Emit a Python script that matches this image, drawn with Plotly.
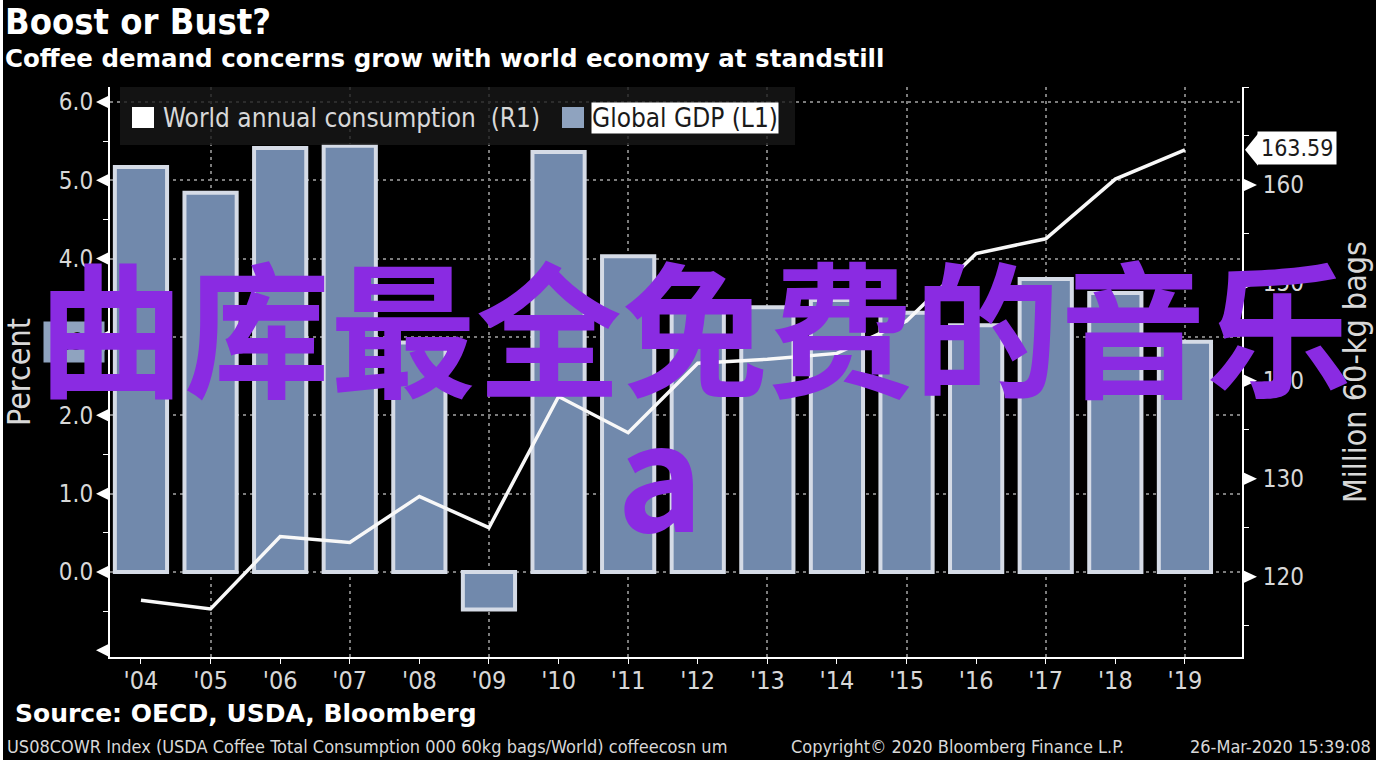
import plotly.graph_objects as go

years = list(range(2004, 2020))
year_labels = ["'04", "'05", "'06", "'07", "'08", "'09", "'10", "'11", "'12", "'13", "'14", "'15", "'16", "'17", "'18", "'19"]
gdp = [5.17, 4.84, 5.41, 5.44, 2.93, -0.48, 5.36, 4.03, 3.45, 3.38, 3.47, 3.31, 3.15, 3.74, 3.56, 2.94]
consumption = [117.6, 116.7, 124.1, 123.5, 128.2, 125.0, 138.4, 134.7, 141.8, 142.2, 142.8, 146.1, 153.0, 154.5, 160.6, 163.59]

left_ticks = [0, 1, 2, 3, 4, 5, 6]
left_labels = ["0.0", "1.0", "2.0", "3.0", "4.0", "5.0", "6.0"]
right_ticks = [120, 130, 140, 150, 160]
odd_years = [2005, 2007, 2009, 2011, 2013, 2015, 2017, 2019]

W, H = 1382, 770
L, R, T, B = 110, 1242, 87, 657
FONT = "DejaVu Sans Condensed, DejaVu Sans"
GREY = "#d8d8d8"
GRID = "#7c7c7c"
GDP_SWATCH = "#8fa3bf"


def xp(x):
    return (x - L) / (R - L)


def yp(y):
    return (B - y) / (B - T)


fig = go.Figure()

fig.add_trace(go.Bar(x=years, y=gdp, name="Global GDP (L1)", width=0.75, showlegend=False,
                     marker=dict(color="#7189ac", line=dict(color="#d5dbe6", width=4))))
fig.add_trace(go.Scatter(x=years, y=consumption, name="World annual consumption (R1)", yaxis="y2",
                         mode="lines", showlegend=False, line=dict(color="#f8f8f8", width=3.5)))

fig.update_layout(
    width=W, height=H, paper_bgcolor="white", plot_bgcolor="black", showlegend=False,
    margin=dict(l=L, r=W - R, t=T, b=H - B, autoexpand=False),
    font=dict(family=FONT, color=GREY, size=24),
    xaxis=dict(range=[2003.555, 2019.82], tickvals=years, ticktext=year_labels, showgrid=False,
               ticks="outside", ticklen=5, tickcolor="white", zeroline=False,
               showline=True, linecolor="white", linewidth=2, tickfont=dict(size=25),
               ticklabelstandoff=-5,
               minor=dict(tickvals=odd_years, showgrid=True, gridcolor=GRID, griddash="3px,4px",
                          gridwidth=1.5, ticks="")),
    yaxis=dict(range=[-1.085, 6.19], tickvals=left_ticks, ticktext=left_labels,
               showgrid=True, gridcolor=GRID, griddash="3px,4px", gridwidth=1.5, zeroline=False,
               showline=True, linecolor="white", linewidth=2, ticks="", ticklabelstandoff=10,
               minor=dict(dtick=0.5, ticks="outside", ticklen=5, tickcolor="white", showgrid=False),
               title=dict(text="Percent", standoff=20, font=dict(size=32))),
    yaxis2=dict(range=[111.8, 170], overlaying="y", side="right", tickvals=right_ticks,
                showgrid=False, zeroline=False, showline=True, linecolor="white", linewidth=2,
                ticks="", ticklabelstandoff=14,
                minor=dict(dtick=5, ticks="outside", ticklen=5, tickcolor="white"),
                title=dict(text="Million 60-kg bags", standoff=41, font=dict(size=32))),
)


def box(x0, x1, y0, y1, color, layer="above"):
    fig.add_shape(type="rect", xref="paper", yref="paper", layer=layer, line_width=0, fillcolor=color,
                  x0=xp(x0), x1=xp(x1), y0=yp(y1), y1=yp(y0))


def triangle(x_anchor, yref, value, path, color="white"):
    # pixel sized marker anchored on an axis value
    fig.add_shape(type="path", xref="paper", yref=yref, xsizemode="pixel", ysizemode="pixel",
                  xanchor=x_anchor, yanchor=value, path=path, fillcolor=color, line_width=0, layer="above")


# white page strip and black picture panel
box(3, 1376, 0, 760, "black", layer="below")
# legend box and swatches
box(120, 795, 87, 145, "rgba(24,24,24,0.8)")
box(132, 154, 107, 128, "white")
box(562, 584, 107, 128, GDP_SWATCH)

for v in [-1] + left_ticks:
    triangle(0, "y", v, "M -14 0 L 0 7 L 0 -7 Z")
for v in right_ticks:
    triangle(1, "y2", v, "M 15 0 L 0 7 L 0 -7 Z")
# pointers of the last value tags
triangle(xp(1258), "y2", consumption[-1], "M -13 0 L 0 16 L 0 -16 Z")
triangle(xp(98), "y", gdp[-1], "M 12 0 L 0 20 L 0 -20 Z", GDP_SWATCH)


def label(text, x, y, size, color=GREY, anchor="left", font=FONT, bold=False, **kw):
    if bold:
        text = "<b>" + text + "</b>"
    fig.add_annotation(text=text, xref="paper", yref="paper", x=xp(x), y=yp(y),
                       xanchor=anchor, yanchor="middle", showarrow=False,
                       font=dict(size=size, color=color, family=font), **kw)


label("Boost or Bust?", 3, 21, 36, "white", bold=True)
label("Coffee demand concerns grow with world economy at standstill", 3, 58, 24.5, "white",
      font="DejaVu Sans", bold=True)
label("World annual consumption  (R1)", 161, 118, 26)
label("Global GDP (L1)", 591, 118, 26, "#1a1a1a", bgcolor="white", borderpad=0)
label("163.59", 1257, 148, 23, "#1a1a1a", bgcolor="white", borderpad=3)
label("2.94", 43, 342, 24, "#1a1a1a", bgcolor=GDP_SWATCH, borderpad=6)
label("Source: OECD, USDA, Bloomberg", 13, 713, 25, "white", font="DejaVu Sans", bold=True)
label("US08COWR Index (USDA Coffee Total Consumption 000 60kg bags/World) coffeecosn um", 5, 746, 18)
label("Copyright© 2020 Bloomberg Finance L.P.", 789, 746, 18)
label("26-Mar-2020 15:39:08", 1373, 746, 18, anchor="right")
# purple overlay text across the chart
label("曲库最全免费的音乐", 695, 322, 146, "#8a2be2", anchor="center", font="Noto Sans CJK SC", bold=True)
label("a", 660, 468, 146, "#8a2be2", anchor="center", font="Noto Sans CJK SC", bold=True)

fig.write_html("out.html", config={"displayModeBar": False},
               post_script="document.body.style.margin='0';")
